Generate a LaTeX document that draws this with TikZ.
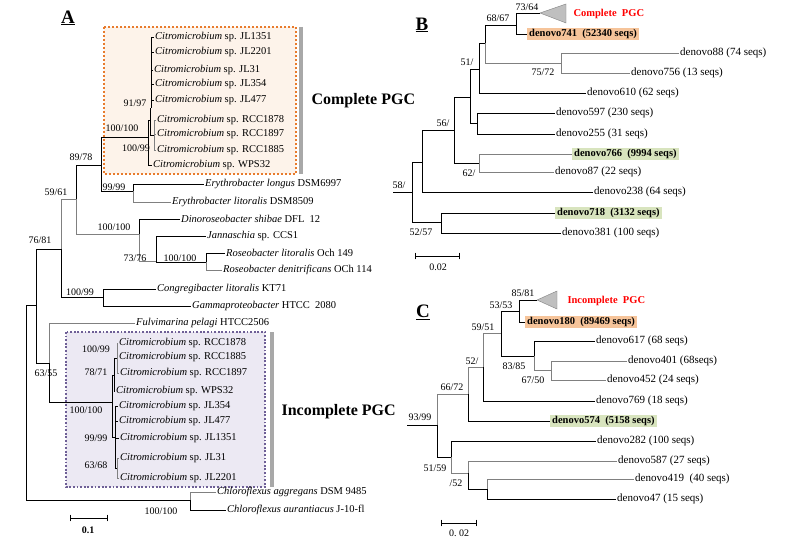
\documentclass[tikz,border=0pt]{standalone}
\usepackage{fontspec}
\setmainfont{Liberation Serif}
\usepackage{tikz}
\usepackage{xcolor}
\usetikzlibrary{positioning}
\usetikzlibrary{calc}

\definecolor{pgcorange}{HTML}{E87B2C}
\definecolor{pgcpeach}{HTML}{FDF3EA}
\definecolor{pgcpurple}{HTML}{6E5F96}
\definecolor{pgclilac}{HTML}{ECE9F3}
\definecolor{hlorange}{HTML}{F6C49A}
\definecolor{hlgreen}{HTML}{D8E4BE}
\definecolor{bargray}{HTML}{A8A8A8}

\newcommand{\citro}[1]{\textit{Citromicrobium} sp. #1}

\begin{document}
\begin{tikzpicture}[x=1pt, y=-1pt,
  leaf/.style={anchor=west, inner sep=1pt, font=\fontsize{10.5}{12}\selectfont},
  otu/.style={anchor=west, inner sep=1pt, font=\fontsize{11}{13}\selectfont},
  hl/.style={anchor=west, inner xsep=2pt, inner ysep=1.5pt, font=\bfseries\fontsize{10.5}{12}\selectfont},
  boot/.style={inner sep=0pt, font=\fontsize{10}{12}\selectfont},
  br/.style={line width=0.7pt, black},
  brg/.style={line width=0.7pt, gray},
  panel/.style={font=\bfseries\fontsize{19}{22}\selectfont},
  pgc/.style={anchor=west, font=\bfseries\fontsize{16}{19}\selectfont},
  pgcred/.style={anchor=west, text=red, font=\bfseries\fontsize{10.5}{12}\selectfont},
  tri/.style={fill=gray!50, draw=gray},
]

\fill[white] (0,0) rectangle (803,545);
\useasboundingbox (0,0) rectangle (803,545);

% A
\node[panel] (lblA) at (68,18) {\underline{A}};

\coordinate (boxA1) at (104,27);
\coordinate (boxA2) at (296,174);
\draw[pgcorange, fill=pgcpeach, line width=2.2pt, dash pattern=on 2pt off 2pt] (boxA1) rectangle (boxA2);
\coordinate (barA1) at (301,27);
\coordinate (barA2) at (301,174);
\draw[bargray, line width=4.5pt] (barA1) -- (barA2);
\node[pgc] (pgcA) at (308,101) {Complete PGC};

\coordinate (boxI1) at (66,332);
\coordinate (boxI2) at (265,487);
\draw[pgcpurple, fill=pgclilac, line width=1.8pt, dash pattern=on 1.8pt off 1.8pt] (boxI1) rectangle (boxI2);
\coordinate (barI1) at (272,332);
\coordinate (barI2) at (272,487);
\draw[bargray, line width=4.5pt] (barI1) -- (barI2);
\node[pgc] (pgcI) at (278,412) {Incomplete PGC};

\node[leaf] (cJL1351) at (154,37) {\citro{JL1351}};
\node[leaf] (cJL2201) at (154,52) {\citro{JL2201}};
\node[leaf] (cJL31) at (153,70) {\citro{JL31}};
\node[leaf] (cJL354) at (154,84) {\citro{JL354}};
\node[leaf] (cJL477) at (154,100) {\citro{JL477}};
\node[leaf] (cRCC1878) at (156,120) {\citro{RCC1878}};
\node[leaf] (cRCC1897) at (156,134) {\citro{RCC1897}};
\node[leaf] (cRCC1885) at (156,150) {\citro{RCC1885}};
\node[leaf] (cWPS32) at (152,165) {\citro{WPS32}};
\node[leaf] (eLon) at (204,184) {\textit{Erythrobacter longus} DSM6997};
\node[leaf] (eLit) at (171,202) {\textit{Erythrobacter litoralis} DSM8509};
\node[leaf] (dShi) at (180,219) {\textit{Dinoroseobacter shibae} DFL\ \ 12};
\node[leaf] (jCCS) at (206,236) {\textit{Jannaschia} sp. CCS1};
\node[leaf] (rLit) at (225,253) {\textit{Roseobacter litoralis} Och 149};
\node[leaf] (rDen) at (222,270) {\textit{Roseobacter denitrificans} OCh 114};
\node[leaf] (cLit) at (156,289) {\textit{Congregibacter litoralis} KT71};
\node[leaf] (gHTCC) at (191,306) {\textit{Gammaproteobacter} HTCC\ \ 2080};
\node[leaf] (fPel) at (135,323) {\textit{Fulvimarina pelagi} HTCC2506};
\node[leaf] (iRCC1878) at (118,343) {\citro{RCC1878}};
\node[leaf] (iRCC1885) at (118,357) {\citro{RCC1885}};
\node[leaf] (iRCC1897) at (119,373) {\citro{RCC1897}};
\node[leaf] (iWPS32) at (115,391) {\citro{WPS32}};
\node[leaf] (iJL354) at (118,406) {\citro{JL354}};
\node[leaf] (iJL477) at (118,421) {\citro{JL477}};
\node[leaf] (iJL1351) at (119,438) {\citro{JL1351}};
\node[leaf] (iJL31) at (119,458) {\citro{JL31}};
\node[leaf] (iJL2201) at (119,478) {\citro{JL2201}};
\node[leaf] (cAgg) at (216,492) {\textit{Chloroflexus aggregans} DSM 9485};
\node[leaf] (cAur) at (226,510) {\textit{Chloroflexus aurantiacus} J-10-fl};

\coordinate (aJL) at (151,108);
\coordinate (aRCC) at (154,135);
\coordinate (a9197) at (150,120);
\coordinate (aCit) at (148,137);
\coordinate (a8978) at (101,165);
\coordinate (aEry) at (133,191);
\coordinate (a5961) at (76,199);
\coordinate (aDino) at (139,234);
\coordinate (aJan) at (156,261);
\coordinate (aRos) at (206,262);
\coordinate (a7681) at (61,249);
\coordinate (aCong) at (103,297);
\coordinate (aIn) at (36,305);
\coordinate (a6355) at (49,363);
\coordinate (aCitI) at (112,402);
\coordinate (iRCC) at (117,358);
\coordinate (i7871) at (114,375);
\coordinate (iJL) at (115,437);
\coordinate (iJL2) at (117,468);
\coordinate (rootA) at (26,400);
\coordinate (aChl) at (190,500);

\foreach \l in {cJL1351,cJL2201,cJL31,cJL354,cJL477}
  \draw[br, line width=0.5pt] (aJL) |- (\l.west);
\foreach \l in {cRCC1878,cRCC1897,cRCC1885}
  \draw[brg, line width=0.5pt] (aRCC) |- (\l.west);
\draw[br, line width=0.5pt] (a9197) |- (aJL);
\draw[br, line width=0.5pt] (a9197) |- (aRCC);
\draw[br, line width=0.5pt] (aCit) |- (a9197);
\draw[br, line width=0.5pt] (aCit) |- (cWPS32.west);
\draw[br] (a8978) |- (aCit);
\draw[br] (a8978) |- (aEry);
\draw[br] (aEry) |- (eLon.west);
\draw[brg] (aEry) |- (eLit.west);
\draw[br] (a5961) |- (a8978);
\draw[brg] (a5961) |- (aDino);
\draw[br] (aDino) |- (dShi.west);
\draw[brg] (aDino) |- (aJan);
\draw[br] (aJan) |- (jCCS.west);
\draw[br] (aJan) |- (aRos);
\draw[br] (aRos) |- (rLit.west);
\draw[brg] (aRos) |- (rDen.west);
\draw[brg] (a7681) |- (a5961);
\draw[br] (a7681) |- (aCong);
\draw[br] (aCong) |- (cLit.west);
\draw[br] (aCong) |- (gHTCC.west);
\draw[br] (aIn) |- (a7681);
\draw[br] (aIn) |- (a6355);
\draw[brg] (a6355) |- (fPel.west);
\draw[br] (a6355) |- (aCitI);
\foreach \l in {iRCC1878,iRCC1885,iRCC1897}
  \draw[brg, line width=0.5pt] (iRCC) |- (\l.west);
\draw[br] (i7871) |- (iRCC);
\draw[br, line width=0.5pt] (i7871) |- (iWPS32.west);
\foreach \l in {iJL354,iJL477,iJL1351}
  \draw[br, line width=0.5pt] (iJL) |- (\l.west);
\draw[br] (iJL) |- (iJL2);
\draw[brg, line width=0.5pt] (iJL2) |- (iJL31.west);
\draw[brg, line width=0.5pt] (iJL2) |- (iJL2201.west);
\draw[br] (aCitI) |- (i7871);
\draw[br] (aCitI) |- (iJL);
\draw[br] (rootA) |- (aIn);
\draw[br] (rootA) |- (aChl);
\draw[brg] (aChl) |- (cAgg.west);
\draw[br] (aChl) |- (cAur.west);

\node[boot] (bs9197) at (135,103) {91/97};
\node[boot] (bsCit) at (122,128) {100/100};
\node[boot] (bsRCC) at (136,148) {100/99};
\node[boot] (bs8978) at (81,157) {89/78};
\node[boot] (bsEry) at (114,187) {99/99};
\node[boot] (bs5961) at (56,192) {59/61};
\node[boot] (bsDino) at (114,227) {100/100};
\node[boot] (bsJan) at (135,258) {73/76};
\node[boot] (bsRos) at (180,258) {100/100};
\node[boot] (bs7681) at (40,240) {76/81};
\node[boot] (bsCong) at (80,292) {100/99};
\node[boot] (bs6355) at (46,373) {63/55};
\node[boot] (bsiRCC) at (96,349) {100/99};
\node[boot] (bs7871) at (96,372) {78/71};
\node[boot] (bsCitI) at (86,410) {100/100};
\node[boot] (bsiJL) at (96,438) {99/99};
\node[boot] (bs6368) at (96,465) {63/68};
\node[boot] (bsChl) at (161,511) {100/100};

\coordinate (sbA1) at (70,518);
\coordinate (sbA2) at (108,518);
\draw[br, |-|] (sbA1) -- (sbA2);
\node[boot, font=\bfseries\fontsize{10}{12}\selectfont] (sbAlbl) at (88,530) {0.1};

% B
\node[panel] (lblB) at (422,25) {\underline{B}};

\coordinate (tBtip) at (540,13);
\coordinate (tBtop) at (566,4);
\coordinate (tBbot) at (566,23);
\draw[tri] (tBtip) -- (tBtop) -- (tBbot) -- cycle;
\node[pgcred] (pgcB) at (570,14) {Complete\ \ PGC};

\node[hl, fill=hlorange] (d741) at (527,34) {denovo741\ \ (52340 seqs)};
\node[otu] (d88) at (679,53) {denovo88 (74 seqs)};
\node[otu] (d756) at (630,73) {denovo756 (13 seqs)};
\node[otu] (d610) at (586,93) {denovo610 (62 seqs)};
\node[otu] (d597) at (555,113) {denovo597 (230 seqs)};
\node[otu] (d255) at (555,134) {denovo255 (31 seqs)};
\node[hl, fill=hlgreen] (d766) at (572,154) {denovo766\ \ (9994 seqs)};
\node[otu] (d87) at (554,172) {denovo87 (22 seqs)};
\node[otu] (d238) at (593,192) {denovo238 (64 seqs)};
\node[hl, fill=hlgreen] (d718) at (555,213) {denovo718\ \ (3132 seqs)};
\node[otu] (d381) at (561,233) {denovo381 (100 seqs)};

\coordinate (bN6867) at (516,25);
\coordinate (bN7572) at (561,63);
\coordinate (bN51) at (485,43);
\coordinate (bN2) at (479,69);
\coordinate (bN3) at (477,123);
\coordinate (bN4) at (470,97);
\coordinate (bN62) at (479,163);
\coordinate (bN56) at (454,130);
\coordinate (bN5) at (422,162);
\coordinate (bN5257) at (441,222);
\coordinate (bRoot) at (412,192);
\coordinate (bStub) at (393,192);

\draw[br] (bN6867) |- (tBtip);
\draw[br] (bN6867) |- (d741.west);
\draw[brg] (bN7572) |- (d88.west);
\draw[brg] (bN7572) |- (d756.west);
\draw[br] (bN51) |- (bN6867);
\draw[brg] (bN51) |- (bN7572);
\draw[br] (bN2) |- (bN51);
\draw[br] (bN2) |- (d610.west);
\draw[br] (bN3) |- (d597.west);
\draw[br] (bN3) |- (d255.west);
\draw[br] (bN4) |- (bN2);
\draw[br] (bN4) |- (bN3);
\draw[brg] (bN62) |- (d766.west);
\draw[brg] (bN62) |- (d87.west);
\draw[br] (bN56) |- (bN4);
\draw[br] (bN56) |- (bN62);
\draw[br] (bN5) |- (bN56);
\draw[br] (bN5) |- (d238.west);
\draw[br] (bN5257) |- (d718.west);
\draw[br] (bN5257) |- (d381.west);
\draw[br] (bRoot) |- (bN5);
\draw[br] (bRoot) |- (bN5257);
\draw[br] (bStub) -- (bRoot);

\node[boot] (bs7364) at (527,7) {73/64};
\node[boot] (bs6867) at (498,18) {68/67};
\node[boot] (bs7572) at (543,72) {75/72};
\node[boot] (bs51) at (467,62) {51/};
\node[boot] (bs56) at (443,123) {56/};
\node[boot] (bs62) at (469,173) {62/};
\node[boot] (bs58) at (399,185) {58/};
\node[boot] (bs5257) at (421,232) {52/57};

\coordinate (sbB1) at (415,256);
\coordinate (sbB2) at (460,256);
\draw[br, |-|] (sbB1) -- (sbB2);
\node[boot] (sbBlbl) at (438,267) {0.02};

% C
\node[panel] (lblC) at (423,312) {\underline{C}};

\coordinate (tCtip) at (537,300);
\coordinate (tCtop) at (557,291);
\coordinate (tCbot) at (557,309);
\draw[tri] (tCtip) -- (tCtop) -- (tCbot) -- cycle;
\node[pgcred] (pgcC) at (564,301) {Incomplete\ \ PGC};

\node[hl, fill=hlorange] (d180) at (525,322) {denovo180\ \ (89469 seqs)};
\node[otu] (d617) at (595,341) {denovo617 (68 seqs)};
\node[otu] (d401) at (627,361) {denovo401 (68seqs)};
\node[otu] (d452) at (606,380) {denovo452 (24 seqs)};
\node[otu] (d769) at (595,401) {denovo769 (18 seqs)};
\node[hl, fill=hlgreen] (d574) at (550,421) {denovo574\ \ (5158 seqs)};
\node[otu] (d282) at (596,441) {denovo282 (100 seqs)};
\node[otu] (d587) at (617,461) {denovo587 (27 seqs)};
\node[otu] (d419) at (634,479) {denovo419\ \ (40 seqs)};
\node[otu] (d47) at (616,499) {denovo47 (15 seqs)};

\coordinate (cN5353) at (519,311);
\coordinate (cN6750) at (551,370);
\coordinate (cN8385) at (534,356);
\coordinate (cN5951) at (501,333);
\coordinate (cN52) at (483,367);
\coordinate (cN6672) at (468,394);
\coordinate (cN2) at (487,489);
\coordinate (cN52b) at (468,473);
\coordinate (cN5159) at (451,457);
\coordinate (cRoot) at (437,425);
\coordinate (cStub) at (407,425);

\draw[br] (cN5353) |- (tCtip);
\draw[br] (cN5353) |- (d180.west);
\draw[brg] (cN6750) |- (d401.west);
\draw[brg] (cN6750) |- (d452.west);
\draw[br] (cN8385) |- (d617.west);
\draw[brg] (cN8385) |- (cN6750);
\draw[br] (cN5951) |- (cN5353);
\draw[br] (cN5951) |- (cN8385);
\draw[brg] (cN52) |- (cN5951);
\draw[br] (cN52) |- (d769.west);
\draw[brg] (cN6672) |- (cN52);
\draw[br] (cN6672) |- (d574.west);
\draw[brg] (cN2) |- (d419.west);
\draw[br] (cN2) |- (d47.west);
\draw[brg] (cN52b) |- (d587.west);
\draw[br] (cN52b) |- (cN2);
\draw[br] (cN5159) |- (d282.west);
\draw[brg] (cN5159) |- (cN52b);
\draw[brg] (cRoot) |- (cN6672);
\draw[br] (cRoot) |- (cN5159);
\draw[br] (cStub) -- (cRoot);

\node[boot] (bs8581) at (523,293) {85/81};
\node[boot] (bs5353) at (501,305) {53/53};
\node[boot] (bs5951) at (483,327) {59/51};
\node[boot] (bs8385) at (514,366) {83/85};
\node[boot] (bs6750) at (533,380) {67/50};
\node[boot] (bs52) at (472,361) {52/};
\node[boot] (bs6672) at (452,387) {66/72};
\node[boot] (bs9399) at (420,417) {93/99};
\node[boot] (bs5159) at (435,468) {51/59};
\node[boot] (bs52b) at (456,483) {/52};

\coordinate (sbC1) at (441,523);
\coordinate (sbC2) at (477,523);
\draw[br, |-|] (sbC1) -- (sbC2);
\node[boot] (sbClbl) at (459,533) {0.\ 02};

\end{tikzpicture}
\end{document}
